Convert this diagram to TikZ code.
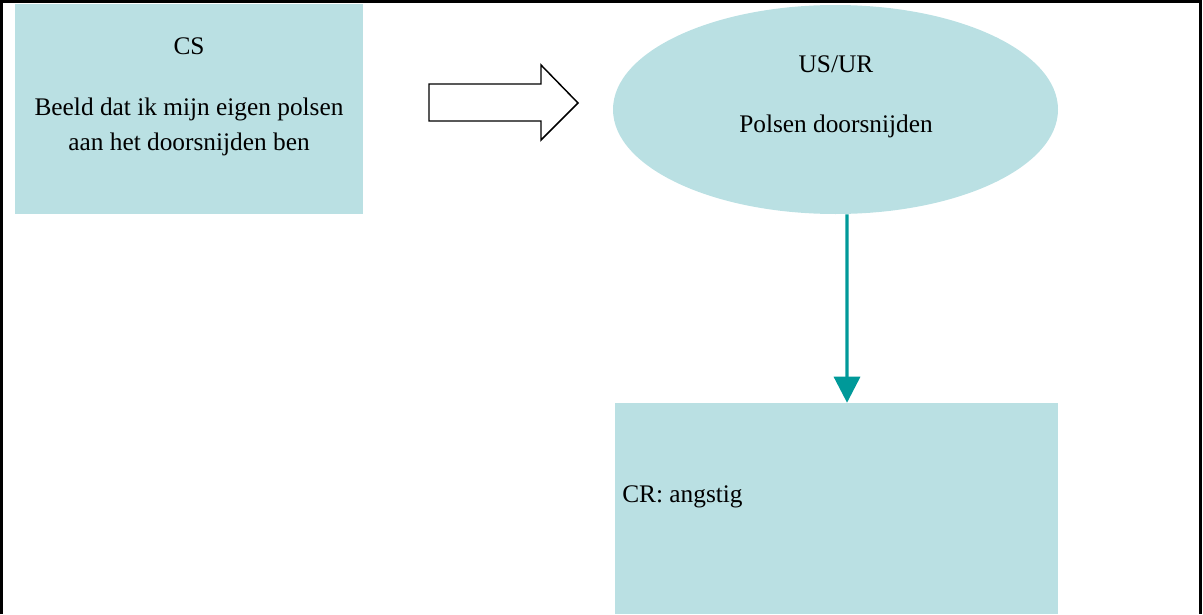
\documentclass[tikz,border=0pt]{standalone}
\usepackage{fontspec}
\setmainfont{Liberation Serif}
\usetikzlibrary{shapes.geometric,arrows.meta}
\definecolor{boxfill}{RGB}{186,224,227}
\definecolor{linkteal}{RGB}{0,153,153}
\begin{document}
\begin{tikzpicture}[x=0.75pt,y=-0.75pt,
  panel/.style={rectangle,fill=boxfill,draw=none,inner sep=0pt},
  bubble/.style={ellipse,fill=boxfill,draw=none,inner sep=0pt},
  txt/.style={font=\fontsize{19}{25.5}\selectfont,inner sep=0pt,anchor=base},
  conn/.style={draw=linkteal,line width=2.5pt,-{Triangle[width=19.5pt,length=19.5pt]}},
  frame/.style={draw=black,line width=2.25pt},
  blockarrow/.style={draw=black,fill=white,line width=1.1pt,line join=miter}]
\useasboundingbox (0,0) rectangle (1203,614);

% outer frame (open at the bottom)
\draw[frame] (1.5,614) -- (1.5,1.5) -- (1200.5,1.5) -- (1200.5,614);

% conditioned stimulus
\node[panel,minimum width=261pt,minimum height=157.5pt] (cs) at (189,109) {};
\node[txt] (cstitle) at (189,54) {CS};
\node[txt] (csline1) at (189,115) {Beeld dat ik mijn eigen polsen};
\node[txt] (csline2) at (189,150) {aan het doorsnijden ben};

% block arrow between CS and US/UR
\draw[blockarrow] (429,84) -- (541,84) -- (541,65) -- (578,103) -- (541,140) -- (541,121) -- (429,121) -- cycle;

% unconditioned stimulus / response
\node[bubble,minimum width=333.75pt,minimum height=156.75pt] (us) at (835.5,109.5) {};
\node[txt] (ustitle) at (836,72) {US/UR};
\node[txt] (usline) at (836,132) {Polsen doorsnijden};

% conditioned response
\node[panel,minimum width=332.25pt,minimum height=158.25pt] (cr) at (836.5,508.5) {};
\node[txt,anchor=base west] (crtext) at (622,502) {CR: angstig};

% connector
\draw[conn] ([xshift=8.6pt]us.south) -- ([xshift=7.9pt]cr.north);
\end{tikzpicture}
\end{document}
